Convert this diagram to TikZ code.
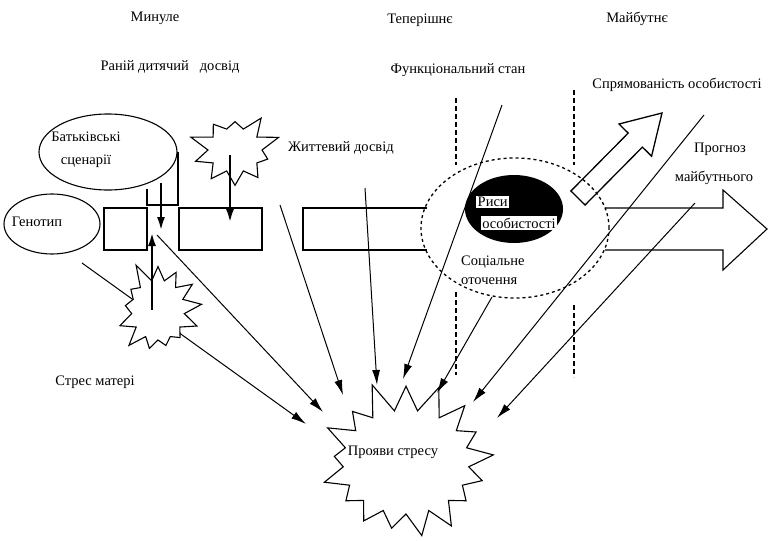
\documentclass[tikz,border=0pt]{standalone}
\usepackage{fontspec}
\setmainfont{Liberation Serif}
\usetikzlibrary{arrows.meta,shapes.geometric,shapes.symbols}
\begin{document}
\begin{tikzpicture}[x=1pt,y=-1pt,
  every node/.style={font=\fontsize{14.5}{16}\selectfont, inner sep=0pt},
  conn/.style={line width=1pt,-{Latex[length=15pt,width=8pt]}},
  boldarr/.style={line width=2.6pt,-{Latex[length=14pt,width=8pt]}},
  burst/.style={starburst, draw, fill=white, line width=1.1pt, inner sep=0pt},
  dashv/.style={line width=1.2pt, dash pattern=on 5pt off 3pt},
  oval/.style={ellipse, draw, line width=1.1pt, inner sep=0pt},
  box/.style={draw, line width=1.1pt, inner sep=0pt},
  shapeline/.style={line width=1.1pt}
]
\useasboundingbox (0,0) rectangle (769,541);

% ovals on the left
\node[oval, minimum width=138pt, minimum height=76pt] (parents) at (108,152) {};
\node[align=center, font=\fontsize{14.5}{23}\selectfont] (parentstext) at (86,150) {Батьківські\\сценарії};
\draw[shapeline] (147,189) -- (147,205) -- (178,205) -- (178,152);
\node[oval, minimum width=96pt, minimum height=60pt] (geno) at (52,224) {};
\node (genotext) at (37,222) {Генотип};

% band of boxes
\node[box, minimum width=43pt, minimum height=42pt] (r1) at (125.5,229) {};
\node[box, minimum width=83pt, minimum height=42pt] (r2) at (220.5,229) {};
\draw[shapeline] (427,208) -- (303,208) -- (303,250) -- (427,250);
\draw[shapeline] (605,208) -- (723,208) -- (723,190) -- (767,229) -- (723,270) -- (723,250) -- (605,250);

% social circle and traits
\node[ellipse, draw, dashed, line width=1.3pt, minimum width=188pt, minimum height=140pt] (social) at (515,228) {};
\node[ellipse, fill=black, minimum width=98pt, minimum height=68pt] (traits) at (514,209) {};
\node[fill=white, anchor=west, inner sep=1.5pt] (tr1) at (476,202) {Риси};
\node[fill=white, inner sep=1.5pt] (tr2) at (519,223) {особистості};
\node[anchor=west] (soc1) at (461,262) {Соціальне};
\node[anchor=west] (soc2) at (461,281) {оточення};

% dashed time borders
\draw[dashv] (456,98) -- (456,165);
\draw[dashv] (456,292) -- (456,375);
\draw[dashv] (574,90) -- (574,165);
\draw[dashv] (574,305) -- (574,377);

% personality direction arrow
\draw[line width=1.3pt] (570.9,191) -- (628.2,133.1) -- (619,124) -- (662,113) -- (651.6,156.2) -- (642.4,147.1) -- (585.1,205) -- cycle;

% stress manifestation
\node[burst, starburst points=17, starburst point height=32pt, random starburst=11, minimum width=190pt, minimum height=168pt] (pro) at (406,462) {};
\node (protext) at (393,452) {Прояви стресу};

% coordinates of free ends
\coordinate (s1) at (82,263);   \coordinate (t1) at (306,424);
\coordinate (s2) at (157,235);  \coordinate (t2) at (323,412);
\coordinate (s3) at (280,205);  \coordinate (t3) at (343,395);
\coordinate (s4) at (365,188);  \coordinate (t4) at (377,385);
\coordinate (s5) at (502,105);  \coordinate (t5) at (403,379);
\coordinate (s6) at (492,297);  \coordinate (t6) at (437,393);
\coordinate (s7) at (704,115);  \coordinate (t7) at (473,402);
\coordinate (s8) at (695,203);  \coordinate (t8) at (497,418);

\draw[conn] (s1) -- (t1);
\draw[conn] (s2) -- (t2);
\draw[conn] (s3) -- (t3);
\draw[conn] (s4) -- (t4);
\draw[conn] (s5) -- (t5);
\draw[conn] (s6) -- (t6);
\draw[conn] (s7) -- (t7);
\draw[conn] (s8) -- (t8);

% starbursts
\node[burst, starburst points=10, starburst point height=20pt, random starburst=3, minimum width=94pt, minimum height=84pt] (early) at (235,150) {};
\node[burst, starburst points=13, starburst point height=22pt, random starburst=5, minimum width=97pt, minimum height=104pt] (mstress) at (158,310) {};

% bold arrows
\coordinate (b1s) at (161,183); \coordinate (b1e) at (161,231);
\coordinate (b2s) at (152,310); \coordinate (b2e) at (152,232);
\coordinate (b3s) at (230,155); \coordinate (b3e) at (230,223);
\draw[boldarr] (b1s) -- (b1e);
\draw[boldarr] (b2s) -- (b2e);
\draw[boldarr] (b3s) -- (b3e);

% labels
\node (past) at (155,18) {Минуле};
\node (present) at (420,20) {Теперішнє};
\node (future) at (637,19) {Майбутнє};
\node (earlyexp) at (170,67) {Раній дитячий\ \ \ досвід};
\node (funcstate) at (458,70) {Функціональний стан};
\node (direction) at (677,85) {Спрямованість особистості};
\node (lifeexp) at (341,148) {Життевий досвід};
\node (forecast1) at (720,149) {Прогноз};
\node (forecast2) at (714,178) {майбутнього};
\node (mstresstext) at (95,382) {Стрес матері};
\end{tikzpicture}
\end{document}
